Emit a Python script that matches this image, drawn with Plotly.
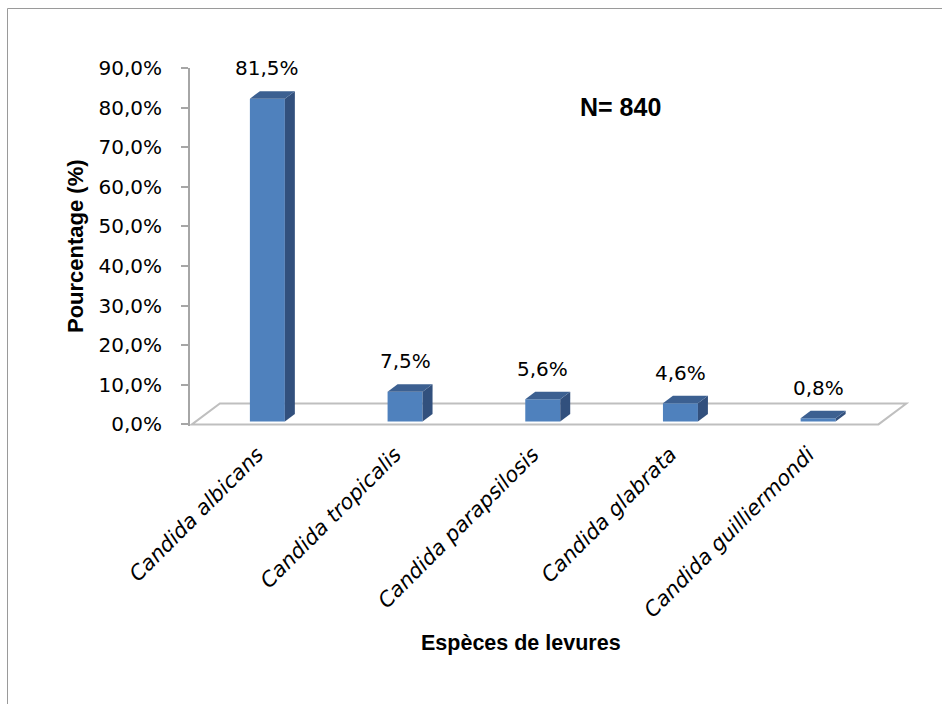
import plotly.graph_objects as go

# Yeast species identified (N = 840) and their share in percent
categories = [
    "Candida albicans",
    "Candida tropicalis",
    "Candida parapsilosis",
    "Candida glabrata",
    "Candida guilliermondi",
]
percentages = [81.5, 7.5, 5.6, 4.6, 0.8]
y_ticks = [0, 10, 20, 30, 40, 50, 60, 70, 80, 90]

# Geometry of the pseudo-3D look (data units)
BASE = 0.75          # bars stand slightly behind the floor's front edge
BAR_W = 0.254        # width of the front face in category units
BAR_DX = 0.0725      # horizontal depth of a bar
BAR_DY = 1.9         # vertical depth of a bar (percent units)
FLOOR_DX = 0.203     # horizontal depth of the floor
FLOOR_DY = 5.3       # vertical depth of the floor

FRONT = "#4F81BD"
SIDE = "#32507D"
TOP = "#3C6091"
GRID_GREY = "#A6A6A6"

W, H = 942, 704
ML, MR, MT, PH = 190, 33, 68, 358
MB = H - MT - PH
PW = W - ML - MR

n = len(categories)
xs = list(range(n))
X_RANGE = [-0.562, n - 0.34]
Y_RANGE = [-0.4, 90]


def px_x(p):
    return (p - ML) / PW


def px_y(p):
    return 1 - (p - MT) / PH


def fmt(v):
    return f"{v:.1f}%".replace(".", ",")


fig = go.Figure()

fig.add_trace(go.Bar(
    x=xs,
    y=percentages,
    base=[BASE] * n,
    width=BAR_W,
    marker=dict(color=FRONT, line=dict(width=0)),
    hoverinfo="skip",
    cliponaxis=False,
))

shapes = []

# Floor of the 3D chart
fl, fr = -0.548, n - 0.562
shapes.append(dict(
    type="path", xref="x", yref="y", layer="below",
    path=(f"M {fl},0 L {fr},0 L {fr + FLOOR_DX},{FLOOR_DY} "
          f"L {fl + FLOOR_DX},{FLOOR_DY} Z"),
    line=dict(color="#BFBFBF", width=2),
    fillcolor="rgba(255,255,255,0)",
))

# Side and top faces of every bar
for x, v in zip(xs, percentages):
    l, r = x - BAR_W / 2, x + BAR_W / 2
    b, t = BASE, BASE + v
    shapes.append(dict(
        type="path", xref="x", yref="y", layer="above",
        path=(f"M {r},{b} L {r + BAR_DX},{b + BAR_DY} "
              f"L {r + BAR_DX},{t + BAR_DY} L {r},{t} Z"),
        line=dict(width=0), fillcolor=SIDE,
    ))
    shapes.append(dict(
        type="path", xref="x", yref="y", layer="above",
        path=(f"M {l},{t} L {l + BAR_DX},{t + BAR_DY} "
              f"L {r + BAR_DX},{t + BAR_DY} L {r},{t} Z"),
        line=dict(width=0), fillcolor=TOP,
    ))

# Chart border
shapes.append(dict(
    type="rect", xref="paper", yref="paper",
    x0=px_x(7.5), x1=px_x(W + 10), y0=px_y(8.5), y1=px_y(H + 10),
    line=dict(color="#9A9A9A", width=1), fillcolor="rgba(0,0,0,0)",
))

annotations = []
for x, v in zip(xs, percentages):
    annotations.append(dict(
        x=x, y=BASE + v + BAR_DY, xref="x", yref="y",
        text=fmt(v), showarrow=False, yanchor="bottom", yshift=9,
        font=dict(family="DejaVu Sans", size=20, color="#000000"),
    ))

annotations.append(dict(
    x=px_x(75), y=px_y(246), xref="paper", yref="paper",
    text="<b>Pourcentage (%)</b>", textangle=-90, showarrow=False,
    xanchor="center", yanchor="middle",
    font=dict(family="Liberation Sans", size=22, color="#000000"),
))
annotations.append(dict(
    x=px_x(521), y=px_y(643), xref="paper", yref="paper",
    text="<b>Espèces de levures</b>", showarrow=False,
    xanchor="center", yanchor="middle",
    font=dict(family="Liberation Sans", size=21.5, color="#000000"),
))
annotations.append(dict(
    x=px_x(620), y=px_y(107), xref="paper", yref="paper",
    text="<b>N= 840</b>", showarrow=False,
    xanchor="center", yanchor="middle",
    font=dict(family="Liberation Sans", size=25, color="#000000"),
))

fig.update_layout(
    width=W, height=H,
    margin=dict(l=ML, r=MR, t=MT, b=MB),
    paper_bgcolor="#FFFFFF", plot_bgcolor="rgba(0,0,0,0)",
    showlegend=False,
    shapes=shapes,
    annotations=annotations,
    xaxis=dict(
        range=X_RANGE, tickmode="array", tickvals=xs, ticktext=categories,
        tickangle=-45, showgrid=False, zeroline=False, showline=False,
        ticks="", ticklabelstandoff=11, ticklabelshift=-10,
        tickfont=dict(family="DejaVu Sans", size=21, style="italic",
                      color="#000000"),
    ),
    yaxis=dict(
        range=Y_RANGE, tickmode="array", tickvals=y_ticks,
        ticktext=[fmt(v) for v in y_ticks],
        showgrid=False, zeroline=False,
        showline=True, linecolor=GRID_GREY, linewidth=2,
        ticks="outside", ticklen=7, tickwidth=1.5, tickcolor=GRID_GREY,
        ticklabelstandoff=15,
        tickfont=dict(family="DejaVu Sans", size=20, color="#000000"),
    ),
)

fig.write_html("out.html")
